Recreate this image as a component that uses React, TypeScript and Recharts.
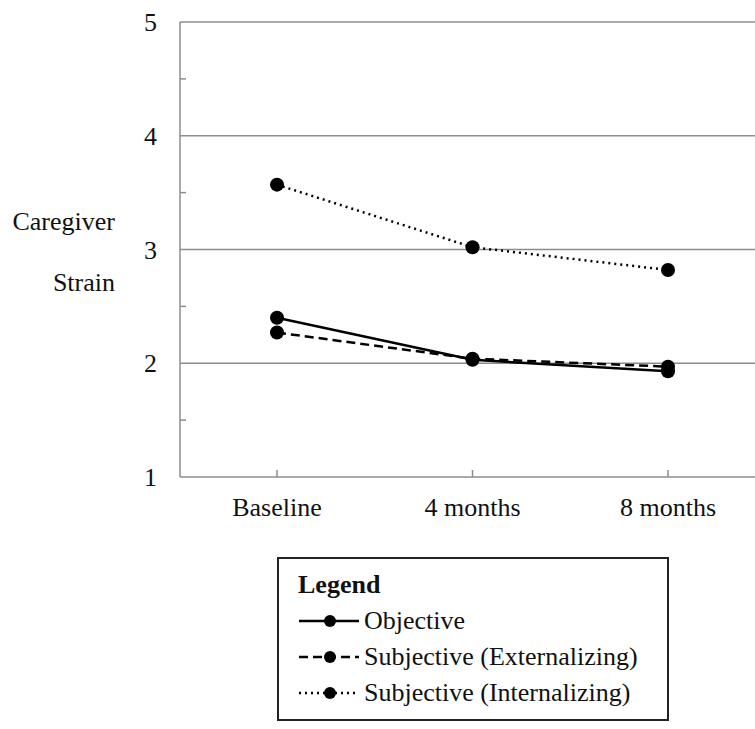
import React from 'react';
import { LineChart, Line, XAxis, YAxis, ReferenceLine, Legend, Label } from 'recharts';

const timepoints = ['Baseline', '4 months', '8 months'];
const objective = [2.4, 2.03, 1.93];
const externalizing = [2.27, 2.04, 1.97];
const internalizing = [3.57, 3.02, 2.82];
const yTicks = [1, 1.5, 2, 2.5, 3, 3.5, 4, 4.5, 5];
const gridValues = [2, 3, 4, 5];

const seriesDefs = [
  { key: 'objective', name: 'Objective', dash: undefined },
  { key: 'externalizing', name: 'Subjective (Externalizing)', dash: '9 5' },
  { key: 'internalizing', name: 'Subjective (Internalizing)', dash: '2 4' },
];

const chartData = timepoints.map((t, i) => ({
  time: t,
  objective: objective[i],
  externalizing: externalizing[i],
  internalizing: internalizing[i],
}));

const FONT = 'Liberation Serif, Times New Roman, serif';
const AXIS = '#8c8c8c';

const YTick = (props: any) => {
  const { x, y, payload } = props;
  if (Number.isInteger(payload.value)) {
    return (
      <text x={x - 23} y={y + 9} textAnchor="end" fontFamily={FONT} fontSize={26} fill="#111">
        {payload.value}
      </text>
    );
  }
  return <line x1={x} x2={x + 6} y1={y} y2={y} stroke={AXIS} strokeWidth={1.5} />;
};

const XTick = (props: any) => {
  const { x, y, payload } = props;
  return (
    <g>
      <line x1={x} x2={x} y1={y} y2={y - 7} stroke={AXIS} strokeWidth={1.5} />
      <text x={x} y={y + 39} textAnchor="middle" fontFamily={FONT} fontSize={26} fill="#111">
        {payload.value}
      </text>
    </g>
  );
};

const YLabel = (props: any) => {
  const { viewBox } = props;
  const mid = viewBox.y + viewBox.height / 2;
  return (
    <g fontFamily={FONT} fontSize={26} fill="#111">
      <text x={viewBox.x + 115} y={mid - 20} textAnchor="end">Caregiver</text>
      <text x={viewBox.x + 115} y={mid + 41} textAnchor="end">Strain</text>
    </g>
  );
};

const LegendBox = () => (
  <div
    style={{
      width: 392,
      height: 164,
      border: '2px solid #222',
      boxSizing: 'border-box',
      fontFamily: FONT,
      fontSize: 26,
      color: '#111',
      padding: '8px 0 0 19px',
      background: '#fff',
    }}
  >
    <div style={{ fontWeight: 'bold', height: 36, lineHeight: '36px' }}>Legend</div>
    {seriesDefs.map((s) => (
      <div key={s.key} style={{ display: 'flex', alignItems: 'center', height: 36 }}>
        <svg width={64} height={20} style={{ marginRight: 2 }}>
          <line x1={1} x2={61} y1={10} y2={10} stroke="#000" strokeWidth={2.5} strokeDasharray={s.dash} />
          <circle cx={32} cy={10} r={6} fill="#000" />
        </svg>
        <span>{s.name}</span>
      </div>
    ))}
  </div>
);

export default function App() {
  return (
    <div style={{ position: 'absolute', left: 0, top: 0, width: 755, height: 729, overflow: 'hidden', background: '#fff' }}>
      <LineChart width={780} height={729} data={chartData} margin={{ top: 22, right: 15, left: 0, bottom: 192 }}>
        {gridValues.map((v) => (
          <ReferenceLine key={v} y={v} stroke={AXIS} strokeWidth={1.5} />
        ))}
        <XAxis
          dataKey="time"
          height={60}
          stroke={AXIS}
          strokeWidth={1.5}
          tickLine={false}
          tickSize={0}
          tickMargin={0}
          tick={<XTick />}
          interval={0}
          padding={{ left: 97, right: 97 }}
        />
        <YAxis
          width={180}
          domain={[1, 5]}
          ticks={yTicks}
          stroke={AXIS}
          strokeWidth={1.5}
          tickLine={false}
          tickSize={0}
          tickMargin={0}
          tick={<YTick />}
          interval={0}
        >
          <Label content={<YLabel />} />
        </YAxis>
        <Legend
          layout="vertical"
          align="center"
          verticalAlign="middle"
          content={<LegendBox />}
          wrapperStyle={{ left: 277, top: 557, width: 'auto' }}
        />
        {seriesDefs.map((s) => (
          <Line
            key={s.key}
            dataKey={s.key}
            name={s.name}
            stroke="#000"
            strokeWidth={2.5}
            strokeDasharray={s.dash}
            dot={{ r: 7, fill: '#000', stroke: '#000', strokeWidth: 0 }}
            isAnimationActive={false}
          />
        ))}
      </LineChart>
    </div>
  );
}
